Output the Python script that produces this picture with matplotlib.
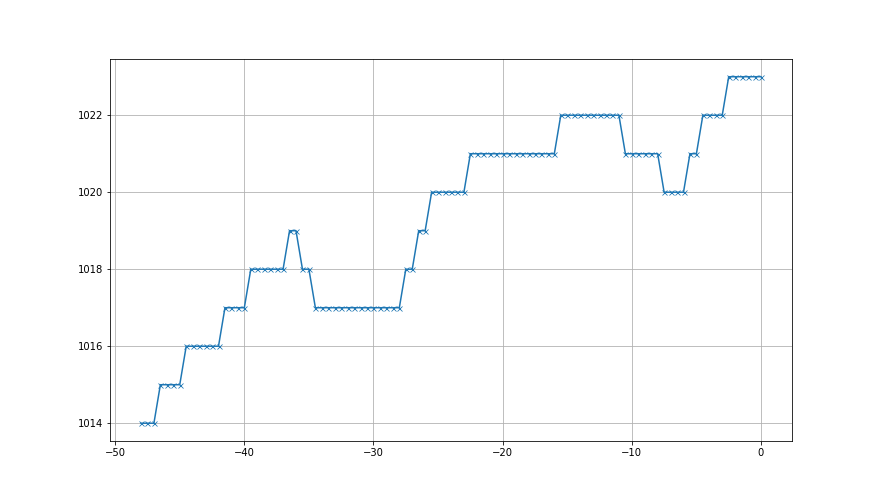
import numpy as np
import matplotlib
matplotlib.use("Agg")
import matplotlib.pyplot as plt

# (level, count) runs; x positions every 0.5 from -48 to 0
levels = [1014, 1015, 1016, 1017, 1018, 1019, 1018, 1017, 1018, 1019,
          1020, 1021, 1022, 1021, 1020, 1021, 1022, 1023]
counts = [3, 4, 6, 4, 6, 2, 2, 14, 2, 2, 6, 14, 10, 6, 4, 2, 4, 6]
x_start = -48.0
x_step = 0.5

values = []
for lv, c in zip(levels, counts):
    values.extend([lv] * c)
x = x_start + x_step * np.arange(len(values))

fig = plt.figure(figsize=(880 / 72, 495 / 72), dpi=72)
ax = fig.add_subplot(111)
ax.plot(x, values, marker="x", markersize=5, markeredgewidth=0.8)
ax.grid(True)
fig.savefig("out.png", dpi=72)
